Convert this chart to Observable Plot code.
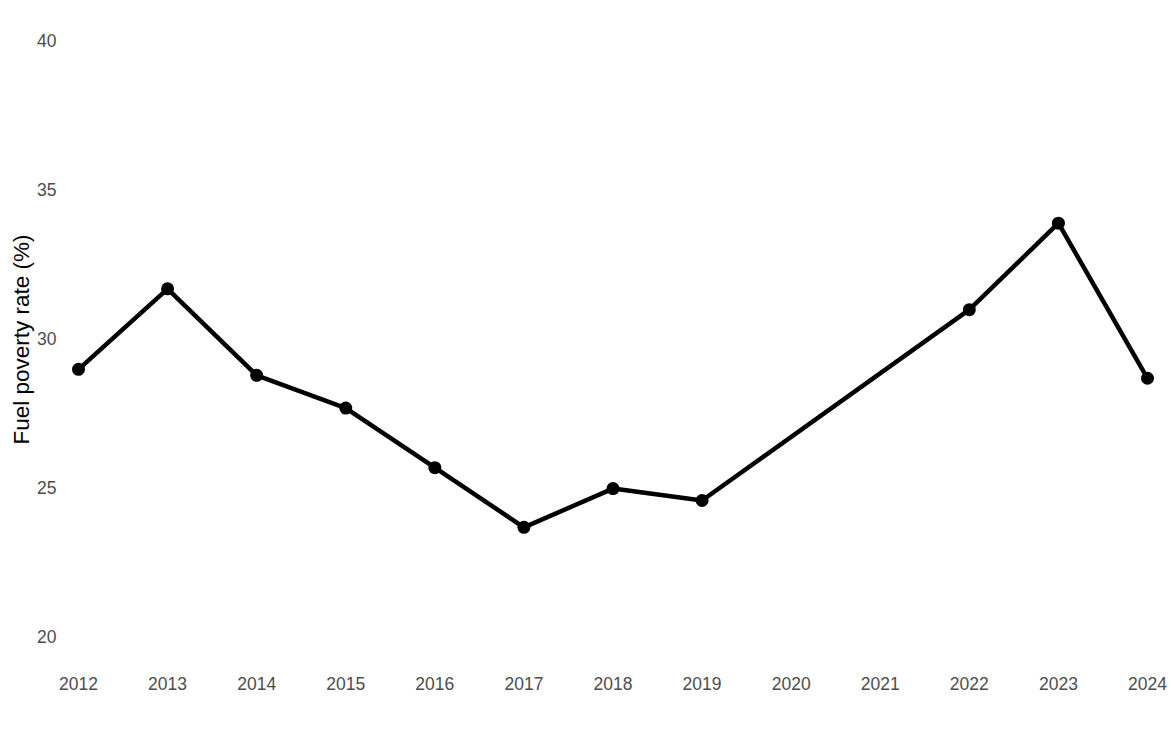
<!DOCTYPE html>
<html>
<head>
<meta charset="utf-8">
<script src="https://cdn.jsdelivr.net/npm/d3@7"></script>
<script src="https://cdn.jsdelivr.net/npm/@observablehq/plot@0.6"></script>
<style>
  body { margin: 0; background: #fff; }
  svg { font-family: "Liberation Sans", Arial, sans-serif; }
</style>
</head>
<body>
<div id="chart"></div>
<script>
const years = [2012, 2013, 2014, 2015, 2016, 2017, 2018, 2019, 2022, 2023, 2024];
const rates = [29.0, 31.7, 28.8, 27.7, 25.7, 23.7, 25.0, 24.6, 31.0, 33.9, 28.7];
const xTicks = [2012, 2013, 2014, 2015, 2016, 2017, 2018, 2019, 2020, 2021, 2022, 2023, 2024];
const yTicks = [20, 25, 30, 35, 40];

const data = years.map((y, i) => ({year: y, rate: rates[i]}));

const chart = Plot.plot({
  width: 1171,
  height: 730,
  marginLeft: 78,
  marginRight: 24,
  marginTop: 11,
  marginBottom: 63,
  style: {fontFamily: "Liberation Sans, Arial, sans-serif", background: "#fff"},
  x: {domain: [2012, 2024]},
  y: {domain: [19, 41]},
  marks: [
    Plot.axisX({ticks: xTicks, tickFormat: d => String(d), tickSize: 0, tickPadding: 10, fontSize: 17.5, fill: "#4d4d4d", label: null}),
    Plot.axisY({ticks: yTicks, tickSize: 0, tickPadding: 22, fontSize: 17.5, fill: "#4d4d4d", label: null}),
    Plot.text(["Fuel poverty rate (%)"], {frameAnchor: "left", textAnchor: "middle", dx: -57, rotate: -90, fontSize: 22.5, fill: "#000"}),
    Plot.line(data, {x: "year", y: "rate", stroke: "#000", strokeWidth: 4.5}),
    Plot.dot(data, {x: "year", y: "rate", r: 6.5, fill: "#000"})
  ]
});
document.getElementById("chart").appendChild(chart);
</script>
</body>
</html>
